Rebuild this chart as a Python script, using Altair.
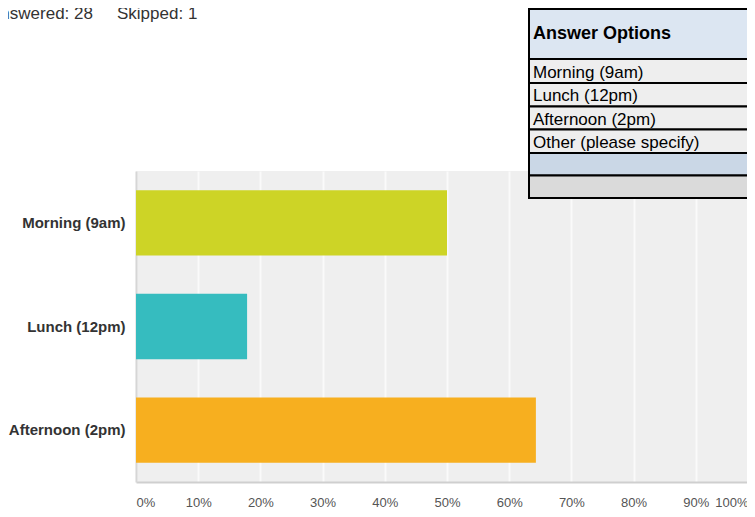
import altair as alt
import pandas as pd

# ---- data -------------------------------------------------------------
categories = ["Morning (9am)", "Lunch (12pm)", "Afternoon (2pm)"]
percents = [0.50, 0.1786, 0.6429]
bar_colors = ["#CDD426", "#36BCBF", "#F7AF1F"]
x_ticks = [0, 0.1, 0.2, 0.3, 0.4, 0.5, 0.6, 0.7, 0.8, 0.9, 1.0]

summary_texts = ["Answered: 28", "Skipped: 1"]

table_labels = ["Answer Options", "Morning (9am)", "Lunch (12pm)",
                "Afternoon (2pm)", "Other (please specify)", "", ""]
table_fills = ["#DCE6F2", "#EEEEEE", "#EEEEEE", "#EEEEEE", "#EEEEEE",
               "#CAD7E6", "#DADADA"]
table_bold = [True, False, False, False, False, False, False]

# ---- layout (pixels, plot-area coordinates) ----------------------------
PLOT_W, PLOT_H, FULL_W = 611, 311, 622
row_heights = [50, 24, 23.5, 23, 23.5, 22.5, 22.5]
TABLE_TOP, TABLE_LEFT, TABLE_RIGHT = -162, 393, 700

FONT = "Liberation Sans"

bars_df = pd.DataFrame({"cat": categories, "pct": percents})

edges = [TABLE_TOP]
for h in row_heights:
    edges.append(edges[-1] + h)
table_df = pd.DataFrame({
    "label": table_labels,
    "fill": table_fills,
    "y0": edges[:-1],
    "y1": edges[1:],
    "yc": [(a + b) / 2 for a, b in zip(edges[:-1], edges[1:])],
    "bold": table_bold,
})

bars = alt.Chart(bars_df).mark_bar().encode(
    x=alt.X("pct:Q",
            scale=alt.Scale(domain=[0, 1], range=[0, FULL_W], nice=False),
            axis=alt.Axis(values=x_ticks, format=".0%", title=None,
                          labelFont=FONT, labelFontSize=13, labelColor="#555555",
                          labelPadding=14, ticks=False, labelFlush=True,
                          labelOffset=alt.condition("datum.value >= 1",
                                                    alt.value(-10), alt.value(0)),
                          domainColor="#CFCFCF", domainWidth=2,
                          gridColor="#FAFAFA", gridWidth=2)),
    y=alt.Y("cat:N", sort=categories,
            scale=alt.Scale(paddingInner=0.37, paddingOuter=0.185),
            axis=alt.Axis(title=None, labelFont=FONT, labelFontSize=15,
                          labelFontWeight="bold", labelColor="#333333",
                          labelPadding=11, ticks=False, labelLimit=300,
                          domainColor="#D6D6D6", domainWidth=2, grid=False)),
    color=alt.Color("cat:N", scale=alt.Scale(domain=categories, range=bar_colors),
                    legend=None),
)

table_rect = alt.Chart(table_df).mark_rect(stroke="#000000", strokeWidth=2).encode(
    x=alt.value(TABLE_LEFT),
    x2=alt.value(TABLE_RIGHT),
    y=alt.Y("y0:Q", scale=None, axis=None),
    y2="y1:Q",
    fill=alt.Fill("fill:N", scale=None),
)

table_text_regular = alt.Chart(table_df).transform_filter(
    "!datum.bold").mark_text(
    align="left", baseline="middle", font=FONT, fontSize=17, color="#000000",
    dy=1.5
).encode(
    x=alt.value(TABLE_LEFT + 4),
    y=alt.Y("yc:Q", scale=None, axis=None),
    text="label:N",
)

table_text_bold = alt.Chart(table_df).transform_filter(
    "datum.bold").mark_text(
    align="left", baseline="middle", font=FONT, fontSize=18,
    fontWeight="bold", color="#000000"
).encode(
    x=alt.value(TABLE_LEFT + 4),
    y=alt.Y("yc:Q", scale=None, axis=None),
    text="label:N",
)

answered = alt.Chart(pd.DataFrame({"t": [summary_texts[0]]})).mark_text(
    align="left", baseline="alphabetic", font=FONT, fontSize=17, color="#333333"
).encode(x=alt.value(-147), y=alt.value(-152), text="t:N")

skipped = alt.Chart(pd.DataFrame({"t": [summary_texts[1]]})).mark_text(
    align="left", baseline="alphabetic", font=FONT, fontSize=17, color="#333333"
).encode(x=alt.value(-19), y=alt.value(-152), text="t:N")

chart = alt.layer(
    bars, table_rect, table_text_regular, table_text_bold, answered, skipped
).resolve_scale(
    x="independent", y="independent"
).properties(
    width=PLOT_W, height=PLOT_H,
    autosize=alt.AutoSizeParams(type="none"),
    padding={"left": 128, "top": 163, "right": 0, "bottom": 27},
).configure_view(
    fill="#EFEFEF", strokeWidth=0
)

chart.save("out.html", embed_options={"renderer": "svg", "actions": False})
